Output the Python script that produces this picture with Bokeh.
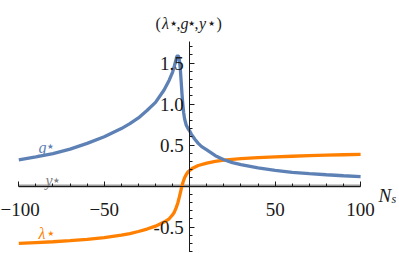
from bokeh.plotting import figure
from bokeh.models import LinearAxis, FixedTicker, PrintfTickFormatter, Range1d, Label
from bokeh.core.properties import value
from bokeh.embed import file_html
from bokeh.resources import INLINE

# ---- data ----
ns_g = [-100, -90, -80, -70, -60, -50, -40, -35, -30, -25, -20, -15, -12, -10, -9, -8,
        -7.5, -7, -6.5, -6, -5.5, -5, -4.5, -4, -3.5, -3, -2, -1, 0, 1, 2, 3, 5, 7,
        10, 15, 20, 25, 30, 40, 50, 60, 70, 80, 90, 100]
g_star = [0.32, 0.355, 0.395, 0.45, 0.52, 0.60, 0.70, 0.76, 0.83, 0.92, 1.02, 1.17, 1.29, 1.39, 1.46, 1.54,
          1.58, 1.59, 1.58, 1.53, 1.43, 1.28, 1.12, 0.99, 0.89, 0.82, 0.74, 0.70, 0.67, 0.63, 0.60, 0.57, 0.52, 0.48,
          0.44, 0.37, 0.32, 0.285, 0.26, 0.22, 0.19, 0.167, 0.15, 0.137, 0.125, 0.115]

ns_lam = [-100, -90, -80, -70, -60, -50, -40, -35, -30, -25, -20, -15, -12, -10, -9, -8, -7, -6,
          -5, -4, -3, -2, -1, 0, 2, 5, 10, 15, 20, 25, 30, 40, 50, 60, 70, 80, 90, 100]
lam_star = [-0.70, -0.69, -0.68, -0.667, -0.65, -0.63, -0.60, -0.58, -0.555, -0.525, -0.49, -0.44,
            -0.40, -0.35, -0.32, -0.27, -0.21, -0.13, -0.04, 0.04, 0.10, 0.14, 0.17, 0.19, 0.22,
            0.25, 0.28, 0.30, 0.315, 0.325, 0.333, 0.345, 0.355, 0.363, 0.37, 0.376, 0.381, 0.385]

ns_y = [-100, 100]
y_star = [0, 0]

x_major = [-100, -50, 50, 100]
x_minor = [-90, -80, -70, -60, -40, -30, -20, -10, 10, 20, 30, 40, 60, 70, 80, 90]
y_major = [-0.5, 0.5, 1.0, 1.5]
y_minor = [-0.8, -0.7, -0.6, -0.4, -0.3, -0.2, -0.1, 0.1, 0.2, 0.3, 0.4, 0.6, 0.7, 0.8, 0.9,
           1.1, 1.2, 1.3, 1.4, 1.6, 1.7]

BLUE = "#5E81B5"
ORANGE = "#FF8000"
GRAY = "#808080"
SERIF = "Liberation Serif"
STAR = "\u2605"

W, H = 398, 252
x0px, xs = 189.2, 1.709
y0px, ys = 185.5, 82.0

p = figure(width=W, height=H, output_backend="svg", toolbar_location=None,
           x_range=Range1d(-x0px / xs, (W - x0px) / xs),
           y_range=Range1d(-(H - y0px) / ys, y0px / ys),
           x_axis_location=None, y_axis_location=None, min_border=0)
p.xgrid.visible = False
p.ygrid.visible = False
p.outline_line_color = None
p.background_fill_color = "white"
p.border_fill_color = "white"

# curves
p.line(ns_y, y_star, color="#9a9a9a", line_width=3.0)
p.line(ns_lam, lam_star, color=ORANGE, line_width=3.3)
p.line(ns_g, g_star, color=BLUE, line_width=3.3)

# axes through the origin
xaxis = LinearAxis(fixed_location=0,
                   ticker=FixedTicker(ticks=x_major, minor_ticks=x_minor),
                   bounds=(-100, 100))
yaxis = LinearAxis(fixed_location=0,
                   ticker=FixedTicker(ticks=y_major, minor_ticks=y_minor),
                   formatter=PrintfTickFormatter(format="%.1f"),
                   bounds=(-0.82, 1.76))
for ax in (xaxis, yaxis):
    ax.axis_line_color = "#1a1a1a"
    ax.axis_line_width = 1
    ax.major_tick_line_color = "#1a1a1a"
    ax.minor_tick_line_color = "#1a1a1a"
    ax.major_tick_out = 0
    ax.minor_tick_out = 0
    ax.major_tick_in = 5
    ax.minor_tick_in = 3
    ax.major_label_text_font = SERIF
    ax.major_label_text_font_size = "19px"
    ax.major_label_text_color = "#1a1a1a"
xaxis.major_label_standoff = 17
yaxis.major_label_standoff = 6
p.add_layout(xaxis, "below")
p.add_layout(yaxis, "left")

# curve labels
def curve_label(x, y, letter, color, dx):
    p.text([x], [y], text=[letter], text_color=color, text_font=value(SERIF),
           text_font_style="italic", text_font_size="16px", text_baseline="alphabetic")
    p.text([x], [y], text=[STAR], text_color=color, text_font=value("DejaVu Sans"),
           text_font_size="7.5px", text_baseline="middle", x_offset=dx, y_offset=-0.5)

curve_label(-88.5, 0.47, "g", BLUE, 8.5)
curve_label(-84.4, 0.067, "y", GRAY, 7.5)
curve_label(-88.5, -0.58, "\u03bb", ORANGE, 9)

# axis labels in screen units (window coordinates)
def slabel(x, y, t, size, style="normal", font=SERIF, align="left", base="alphabetic"):
    p.add_layout(Label(x=x, y=H - y, x_units="screen", y_units="screen", text=t,
                       text_font=font, text_font_size=size, text_font_style=style,
                       text_align=align, text_baseline=base, text_color="#1a1a1a"))

ty = 23
slabel(155, ty, "(", "16px")
slabel(161.5, ty, "\u03bb", "16px", "italic")
slabel(173, ty - 0.5, STAR, "7.5px", font="DejaVu Sans", align="center", base="middle")
slabel(176, ty, ",", "16px")
slabel(180, ty, "g", "16px", "italic")
slabel(191, ty - 0.5, STAR, "7.5px", font="DejaVu Sans", align="center", base="middle")
slabel(194, ty, ",", "16px")
slabel(198.5, ty, "y", "16px", "italic")
slabel(211, ty - 0.5, STAR, "7.5px", font="DejaVu Sans", align="center", base="middle")
slabel(216, ty, ")", "16px")

# horizontal axis label
slabel(378, 195, "N", "19px", "italic")
slabel(391, 198, "s", "12px", "italic")

open("out.html", "w").write(file_html(p, INLINE))
